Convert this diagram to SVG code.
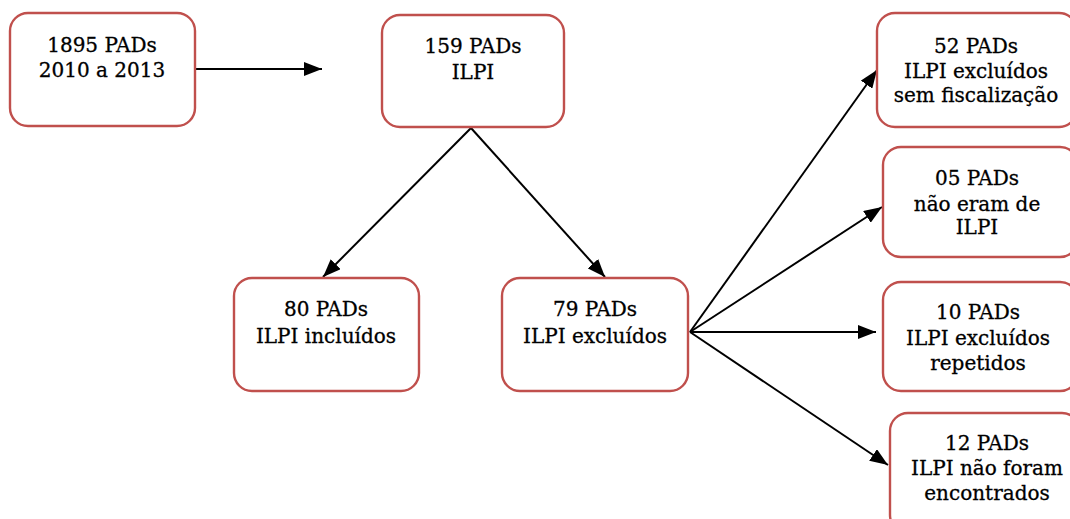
<svg xmlns="http://www.w3.org/2000/svg" width="1070" height="519" viewBox="0 0 1070 519">
<defs>
<marker id="ah" markerWidth="18" markerHeight="14" refX="18" refY="7" orient="auto" markerUnits="userSpaceOnUse">
<path d="M0,0 L18,7 L0,14 Z" fill="#000"/>
</marker>
<style>
.box{fill:#fff;stroke:#C0504D;stroke-width:2.4}
.t{font-family:"DejaVu Serif","Liberation Serif",serif;font-size:20px;fill:#000;stroke:#000;stroke-width:0.3;text-anchor:middle}
.c{stroke:#000;stroke-width:2;fill:none;marker-end:url(#ah)}
</style>
</defs>
<rect width="1070" height="519" fill="#fff"/>
<g id="connectors">
<line class="c" x1="196" y1="69" x2="322" y2="69"/>
<line class="c" x1="471" y1="128" x2="323" y2="277"/>
<line class="c" x1="471" y1="128" x2="605" y2="277"/>
<line class="c" x1="690" y1="332" x2="877" y2="70"/>
<line class="c" x1="690" y1="332" x2="882" y2="207"/>
<line class="c" x1="690" y1="332" x2="876" y2="332"/>
<line class="c" x1="690" y1="332" x2="888" y2="465"/>
</g>
<g id="n1">
<rect class="box" x="10" y="13" width="185" height="113" rx="18"/>
<text class="t" x="102" y="52">1895 PADs</text>
<text class="t" x="102" y="77">2010 a 2013</text>
</g>
<g id="n2">
<rect class="box" x="382" y="15" width="182" height="112" rx="18"/>
<text class="t" x="473" y="53">159 PADs</text>
<text class="t" x="473" y="79">ILPI</text>
</g>
<g id="n3">
<rect class="box" x="234" y="278" width="185" height="113" rx="18"/>
<text class="t" x="326" y="316">80 PADs</text>
<text class="t" x="326" y="343">ILPI incluídos</text>
</g>
<g id="n4">
<rect class="box" x="502" y="278" width="186" height="113" rx="18"/>
<text class="t" x="595" y="316">79 PADs</text>
<text class="t" x="595" y="343">ILPI excluídos</text>
</g>
<g id="n5">
<rect class="box" x="877" y="13" width="200" height="114" rx="18"/>
<text class="t" x="976" y="53">52 PADs</text>
<text class="t" x="976" y="78">ILPI excluídos</text>
<text class="t" x="976" y="102">sem fiscalização</text>
</g>
<g id="n6">
<rect class="box" x="883" y="147" width="195" height="110" rx="18"/>
<text class="t" x="977" y="185">05 PADs</text>
<text class="t" x="977" y="211">não eram de</text>
<text class="t" x="977" y="234">ILPI</text>
</g>
<g id="n7">
<rect class="box" x="883" y="282" width="195" height="109" rx="18"/>
<text class="t" x="978" y="319">10 PADs</text>
<text class="t" x="978" y="345">ILPI excluídos</text>
<text class="t" x="978" y="370">repetidos</text>
</g>
<g id="n8">
<rect class="box" x="890" y="413" width="190" height="120" rx="18"/>
<text class="t" x="987" y="450">12 PADs</text>
<text class="t" x="987" y="475">ILPI não foram</text>
<text class="t" x="987" y="500">encontrados</text>
</g>
</svg>
